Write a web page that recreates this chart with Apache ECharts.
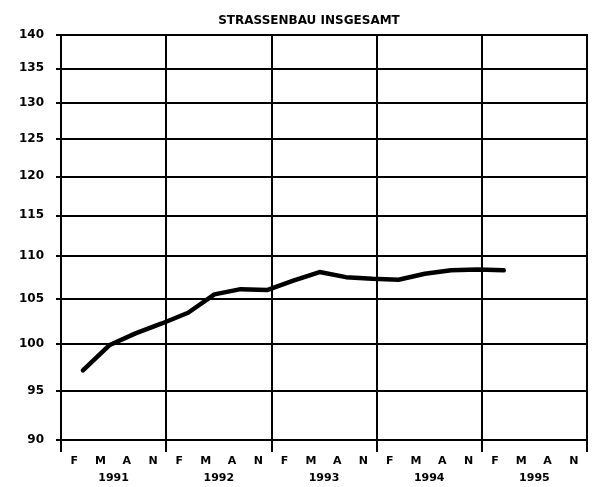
<!DOCTYPE html>
<html>
<head>
<meta charset="utf-8">
<script src="https://cdn.jsdelivr.net/npm/echarts@6/dist/echarts.min.js"></script>
<style>
  html, body { margin: 0; padding: 0; background: #fff; }
  #chart { width: 596px; height: 487px; }
</style>
</head>
<body>
<div id="chart"></div>
<script>
// Jahre und Monatskennung an der x-Achse
const years = ["1991", "1992", "1993", "1994", "1995"];
const monthCodes = ["01", "02", "03", "04", "05", "06", "07", "08", "09", "10", "11", "12"];
const monthLetters = { "02": "F", "05": "M", "08": "A", "11": "N" };

// Quartalswerte (Ende des Quartals)
const quarterDates = [
  "1991-03", "1991-06", "1991-09", "1991-12",
  "1992-03", "1992-06", "1992-09", "1992-12",
  "1993-03", "1993-06", "1993-09", "1993-12",
  "1994-03", "1994-06", "1994-09", "1994-12",
  "1995-03"
];
const values = [
  97.1, 99.8, 101.1, 102.2,
  103.4, 105.5, 106.1, 106.0,
  107.1, 108.1, 107.5, 107.3,
  107.2, 107.9, 108.3, 108.4,
  108.3
];

const yTicks = [90, 95, 100, 105, 110, 115, 120, 125, 130, 135, 140];

const months = [];
years.forEach(y => monthCodes.forEach(m => months.push(y + "-" + m)));

const seriesData = quarterDates.map((d, i) => [d, values[i]]);

const chart = echarts.init(document.getElementById("chart"));
const labelFont = { color: "#000", fontFamily: "DejaVu Sans", fontWeight: "bold", fontSize: 11 };

const option = {
  animation: false,
  title: {
    text: "STRASSENBAU INSGESAMT",
    left: 304,
    textAlign: "center",
    top: 10,
    textStyle: { color: "#000", fontFamily: "DejaVu Sans", fontWeight: "bold", fontSize: 12 }
  },
  grid: {
    left: 61, right: 9, top: 35, bottom: 47,
    show: true, borderColor: "#000", borderWidth: 2
  },
  xAxis: [
    {
      type: "category",
      data: months,
      boundaryGap: true,
      axisLine: { lineStyle: { color: "#000", width: 2 } },
      axisTick: {
        interval: (i) => i % 3 === 0,
        length: 6,
        lineStyle: { color: "#000", width: 2 }
      },
      axisLabel: Object.assign({
        interval: 0,
        margin: 16,
        formatter: (v) => monthLetters[v.slice(5)] || ""
      }, labelFont),
      splitLine: {
        show: true,
        interval: (i) => i % 12 === 0,
        lineStyle: { color: "#000", width: 2 }
      }
    },
    {
      type: "category",
      data: years,
      position: "bottom",
      boundaryGap: true,
      axisLine: { show: false },
      axisTick: { show: true, length: 12, lineStyle: { color: "#000", width: 2 } },
      axisLabel: Object.assign({ margin: 33 }, labelFont),
      splitLine: { show: false }
    }
  ],
  yAxis: {
    type: "log",
    logBase: 10,
    min: 90,
    max: 140,
    axisLine: { show: true, lineStyle: { color: "#000", width: 2 } },
    axisTick: {
      show: true,
      customValues: yTicks,
      length: 5,
      lineStyle: { color: "#000", width: 2 }
    },
    axisLabel: Object.assign({ customValues: yTicks, margin: 17 }, labelFont, { fontSize: 12 }),
    splitLine: {
      show: true,
      customValues: yTicks,
      lineStyle: { color: "#000", width: 2 }
    }
  },
  series: [
    {
      type: "line",
      data: seriesData,
      symbol: "none",
      smooth: false,
      lineStyle: { color: "#000", width: 4.5, cap: "round", join: "round" }
    }
  ]
};
chart.setOption(option);
</script>
</body>
</html>
